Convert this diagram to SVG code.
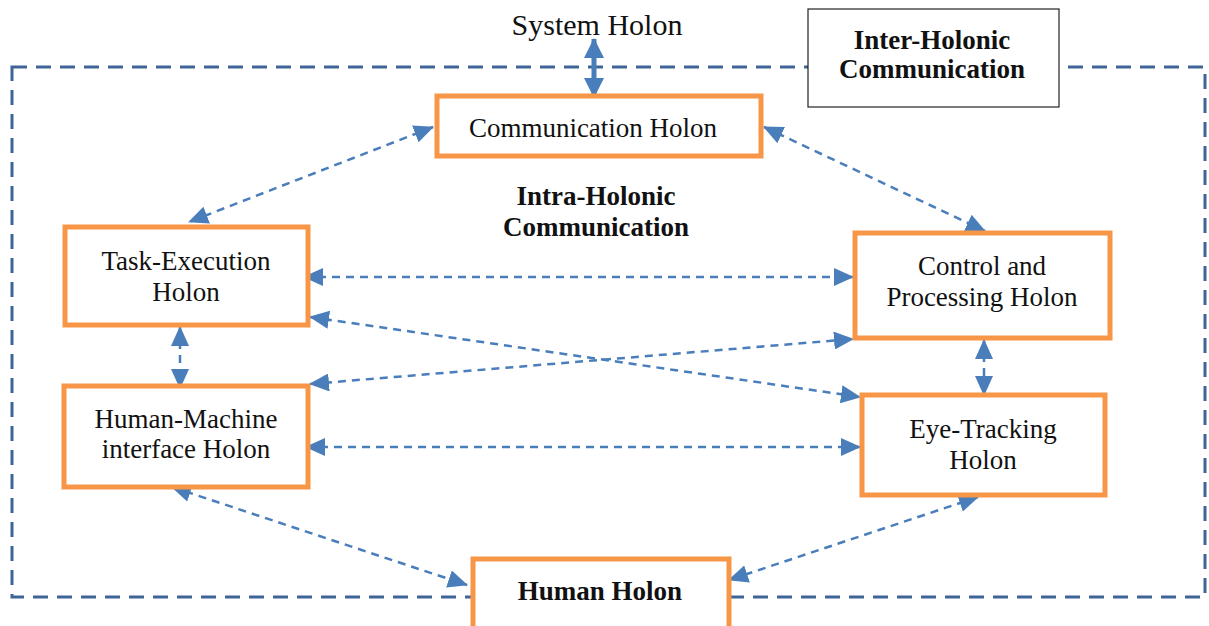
<svg xmlns="http://www.w3.org/2000/svg" width="1209" height="626" viewBox="0 0 1209 626">
  <style>
    .holon { fill: #ffffff; stroke: #F79646; stroke-width: 5; }
    .label { font-family: "Liberation Serif", "Times New Roman", serif; font-size: 27px; fill: #111111; text-anchor: middle; }
    .bold { font-weight: bold; font-size: 27px; }
    .link { fill: none; stroke: #4A7EBB; stroke-width: 2.5; stroke-dasharray: 8 6; marker-start: url(#head); marker-end: url(#head); }
    .solid { fill: none; stroke: #4A7EBB; stroke-width: 5; marker-start: url(#headBig); marker-end: url(#headBig); }
  </style>
  <defs>
    <marker id="head" markerUnits="userSpaceOnUse" viewBox="0 0 20 18" refX="19" refY="9" markerWidth="20" markerHeight="18" orient="auto-start-reverse">
      <path d="M0 0 L20 9 L0 18 Z" fill="#4A7EBB"/>
    </marker>
    <marker id="headBig" markerUnits="userSpaceOnUse" viewBox="0 0 20 20" refX="19" refY="10" markerWidth="20" markerHeight="20" orient="auto-start-reverse">
      <path d="M0 0 L20 10 L0 20 Z" fill="#4A7EBB"/>
    </marker>
  </defs>
  <rect width="1209" height="626" fill="#ffffff"/>

  <!-- system boundary -->
  <rect x="12" y="67" width="1193" height="530" fill="none" stroke="#3F6496" stroke-width="3" stroke-dasharray="15 9"/>

  <g id="inter-holonic">
    <rect x="808" y="9" width="251" height="98" fill="#ffffff" stroke="#222222" stroke-width="1.2"/>
    <text class="label bold" x="932" y="49">Inter-Holonic</text>
    <text class="label bold" x="932" y="78">Communication</text>
  </g>

  <g id="system-holon">
    <text class="label" x="597" y="35" style="font-size:30px">System Holon</text>
  </g>

  <g id="intra-holonic">
    <text class="label bold" x="596" y="205">Intra-Holonic</text>
    <text class="label bold" x="596" y="236">Communication</text>
  </g>

  <g id="connectors">
    <line class="solid" x1="594" y1="39" x2="594" y2="97"/>
    <line class="link" x1="433" y1="127" x2="189" y2="222"/>
    <line class="link" x1="764" y1="127" x2="985" y2="231"/>
    <line class="link" x1="304" y1="277" x2="853" y2="277"/>
    <line class="link" x1="310" y1="317" x2="860" y2="397"/>
    <line class="link" x1="310" y1="384" x2="853" y2="339"/>
    <line class="link" x1="306" y1="447" x2="860" y2="447"/>
    <line class="link" x1="180" y1="327" x2="180" y2="388"/>
    <line class="link" x1="984" y1="340" x2="984" y2="395"/>
    <line class="link" x1="172" y1="487" x2="467" y2="585"/>
    <line class="link" x1="978" y1="497" x2="729" y2="580"/>
  </g>

  <g id="communication-holon">
    <rect class="holon" x="437" y="96" width="324" height="60"/>
    <text class="label" x="593" y="137">Communication Holon</text>
  </g>

  <g id="task-execution-holon">
    <rect class="holon" x="65" y="227" width="243" height="98"/>
    <text class="label" x="186" y="270">Task-Execution</text>
    <text class="label" x="186" y="301">Holon</text>
  </g>

  <g id="hmi-holon">
    <rect class="holon" x="64" y="386" width="244" height="101"/>
    <text class="label" x="186" y="428">Human-Machine</text>
    <text class="label" x="186" y="458">interface Holon</text>
  </g>

  <g id="control-processing-holon">
    <rect class="holon" x="855" y="233" width="255" height="105"/>
    <text class="label" x="982" y="275">Control and</text>
    <text class="label" x="982" y="306">Processing Holon</text>
  </g>

  <g id="eye-tracking-holon">
    <rect class="holon" x="862" y="395" width="243" height="100"/>
    <text class="label" x="983" y="438">Eye-Tracking</text>
    <text class="label" x="983" y="469">Holon</text>
  </g>

  <g id="human-holon">
    <rect class="holon" x="473" y="559" width="256" height="75"/>
    <text class="label bold" x="600" y="600">Human Holon</text>
  </g>
</svg>
